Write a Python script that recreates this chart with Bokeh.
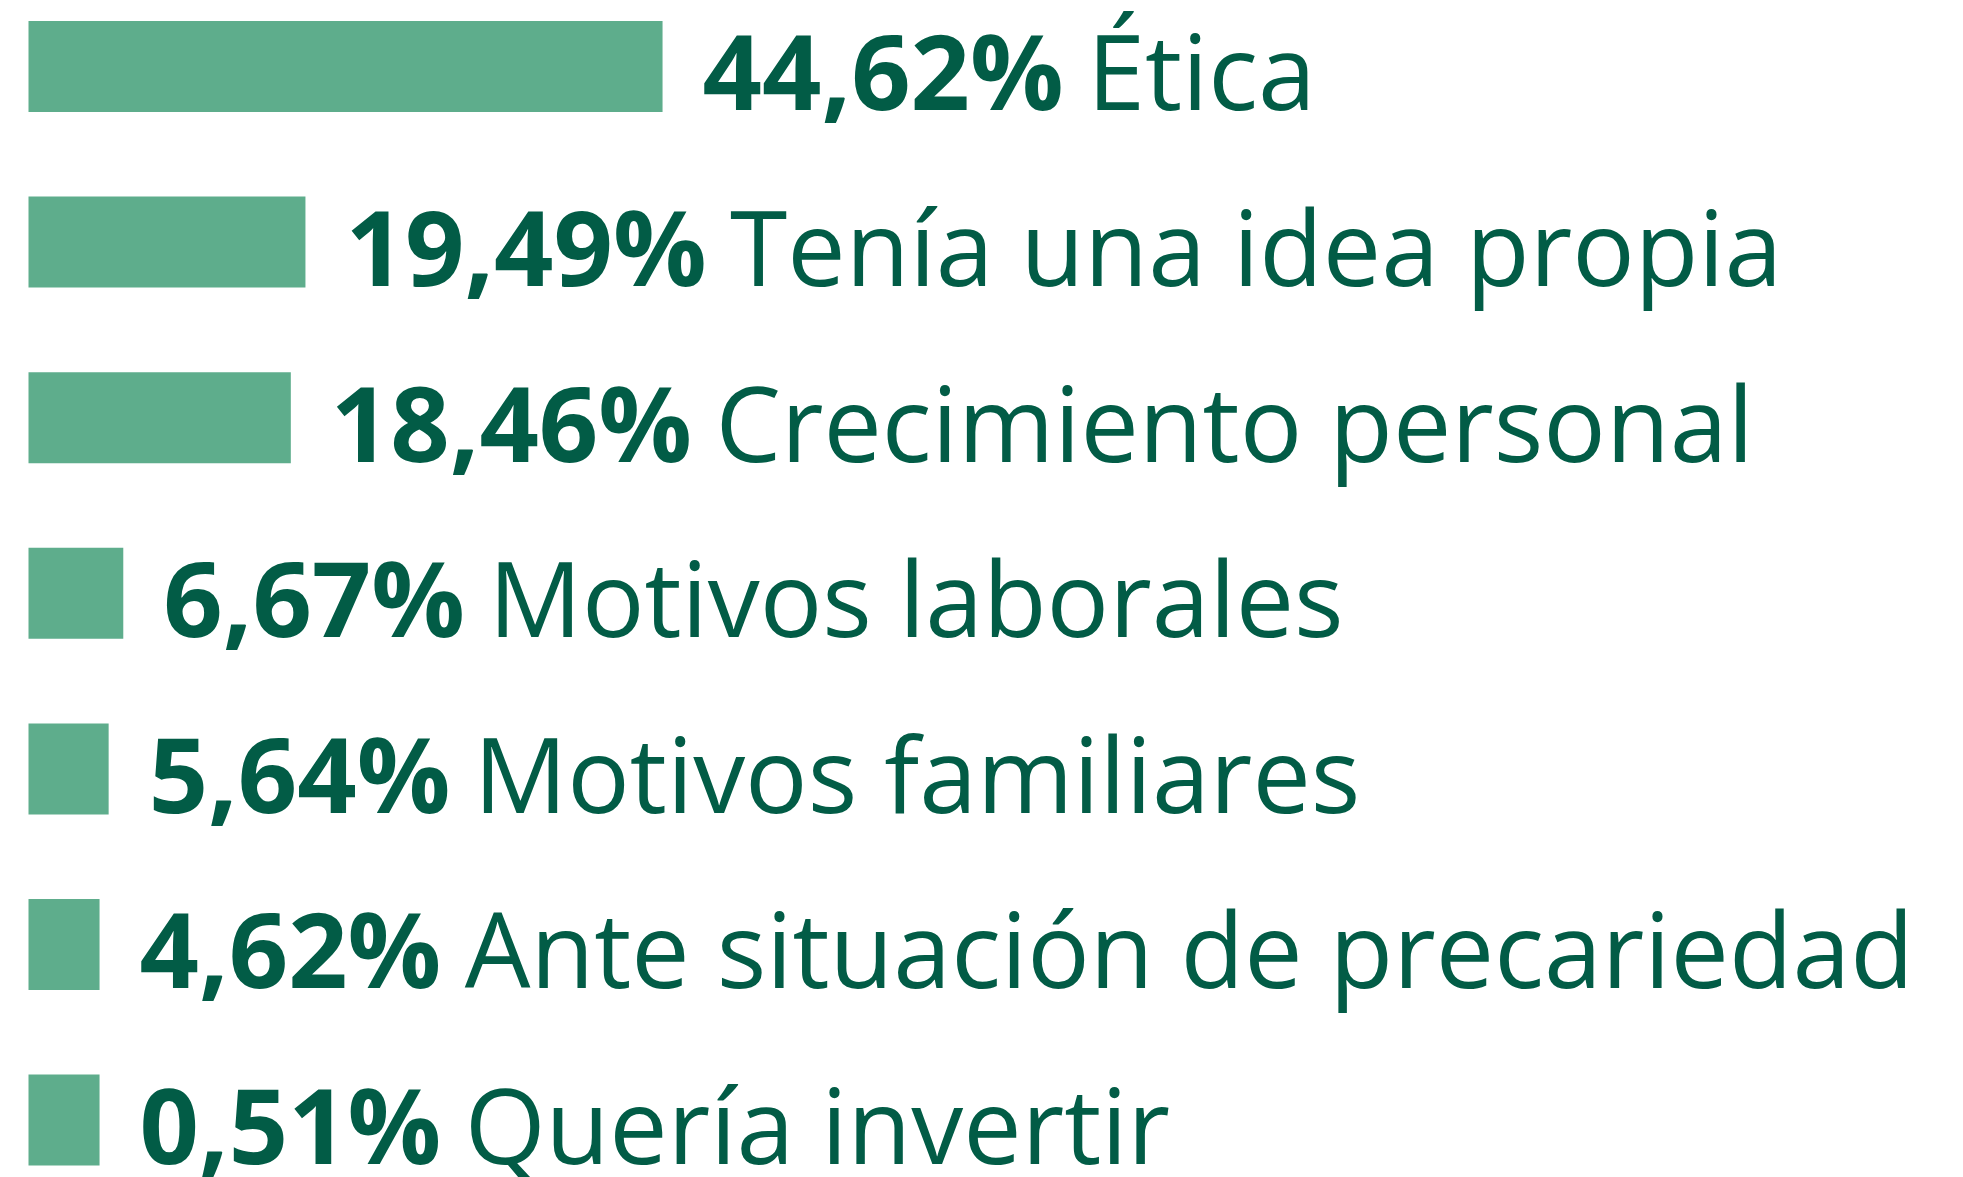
from bokeh.plotting import figure
from bokeh.models import ColumnDataSource, Range1d
from bokeh.core.properties import value
from bokeh.embed import file_html
from bokeh.resources import INLINE

# ---- data ----
categories = ["Ética", "Tenía una idea propia", "Crecimiento personal",
              "Motivos laborales", "Motivos familiares",
              "Ante situación de precariedad", "Quería invertir"]
percentages = [44.62, 19.49, 18.46, 6.67, 5.64, 4.62, 0.51]

# ---- style ----
BAR_COLOR = "#5EAD8C"
TEXT_COLOR = "#025C46"
FONT = "Open Sans"
FONT_PX = 104
MIN_BAR = 5.0          # minimum visible bar length (in % units)
BAR_H = 0.518
LABEL_GAP = 40         # px between bar end and the label
BASELINE_FIX = -42     # px correction so the text baseline sits at the bar bottom

pct_text = [f"{v:.2f}".replace(".", ",") + "%" for v in percentages]
rows = list(range(len(categories)))
bar_len = [max(v, MIN_BAR) for v in percentages]

# approximate advance widths (em) of the bold font for the percentage strings
ADV = {"%": 0.86, ",": 0.27, " ": 0.26}
def bold_width(s):
    return sum(ADV.get(c, 0.572) for c in s) * FONT_PX

bold_off = [LABEL_GAP] * len(rows)
reg_off = [LABEL_GAP + bold_width(s) + 0.28 * FONT_PX for s in pct_text]

src = ColumnDataSource(dict(
    row=rows,
    base=[r + BAR_H / 2 for r in rows],
    bar=bar_len,
    pct=pct_text,
    cat=categories,
    boff=bold_off,
    roff=reg_off,
))

W, H = 1963, 1177
px_per_unit_x = 14.21
px_per_row = 175.6
x0 = -28 / px_per_unit_x
y_top = -66 / px_per_row

p = figure(width=W, height=H, output_backend="svg", toolbar_location=None,
           x_range=Range1d(x0, x0 + W / px_per_unit_x),
           y_range=Range1d(y_top + H / px_per_row, y_top),
           min_border=0, background_fill_color="white",
           border_fill_color="white")
p.outline_line_color = None
p.axis.visible = False
p.grid.visible = False

p.hbar(y="row", left=0, right="bar", height=BAR_H, source=src,
       fill_color=BAR_COLOR, line_color=None)

p.text(x="bar", y="base", text="pct", x_offset="boff", y_offset=BASELINE_FIX,
       source=src, text_font=value(FONT), text_font_style="bold",
       text_font_size=f"{FONT_PX}px", text_color=TEXT_COLOR,
       text_baseline="alphabetic", text_align="left")

p.text(x="bar", y="base", text="cat", x_offset="roff", y_offset=BASELINE_FIX,
       source=src, text_font=value(FONT), text_font_style="normal",
       text_font_size=f"{FONT_PX}px", text_color=TEXT_COLOR,
       text_baseline="alphabetic", text_align="left")

open("out.html", "w").write(file_html(p, INLINE))
